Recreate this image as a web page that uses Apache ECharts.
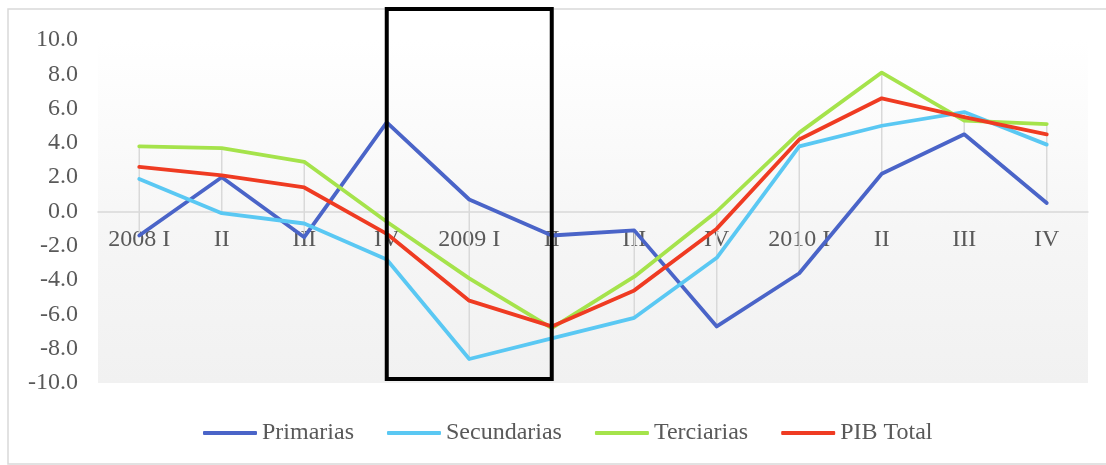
<!DOCTYPE html>
<html>
<head>
<meta charset="utf-8">
<script src="https://cdn.jsdelivr.net/npm/echarts@6/dist/echarts.min.js"></script>
<style>
  html, body { margin: 0; padding: 0; background: #fff; }
  #chart { width: 1106px; height: 465px; }
</style>
</head>
<body>
<div id="chart"></div>
<script>
// Quarterly growth by sector, 2008–2010 (%)
const categories = ['2008 I', 'II', 'III', 'IV', '2009 I', 'II', 'III', 'IV', '2010 I', 'II', 'III', 'IV'];
const primarias   = [-1.4, 2.0, -1.5, 5.2, 0.7, -1.4, -1.1, -6.7, -3.6, 2.2, 4.5, 0.5];
const secundarias = [1.9, -0.1, -0.7, -2.8, -8.6, -7.4, -6.2, -2.7, 3.8, 5.0, 5.8, 3.9];
const terciarias  = [3.8, 3.7, 2.9, -0.6, -3.9, -6.8, -3.8, 0.0, 4.6, 8.1, 5.3, 5.1];
const pibTotal    = [2.6, 2.1, 1.4, -1.3, -5.2, -6.7, -4.6, -1.0, 4.2, 6.6, 5.5, 4.5];
const seriesNames = ['Primarias', 'Secundarias', 'Terciarias', 'PIB Total'];
const seriesColors = ['#4a64c8', '#5ac8f3', '#a5e34b', '#ef3b22'];
const yTicks = { min: -10, max: 10, interval: 2 };
// quarters enclosed by the highlight box
const boxFrom = 3, boxTo = 5;

const font = 'Liberation Serif, Times New Roman, serif';
const fontSize = 24;
const textColor = '#595959';
const allSeries = [primarias, secundarias, terciarias, pibTotal];

// plot box
const gridTop = 40, gridBottom = 82, chartHeight = 465;
const plotHeight = chartHeight - gridTop - gridBottom;
// distance from the bottom of the plot up to the zero line
const zeroLift = plotHeight * (0 - yTicks.min) / (yTicks.max - yTicks.min);

// high-low range per quarter
const hiLow = categories.map((c, i) => {
  const vals = allSeries.map(s => s[i]);
  return [i, Math.max(...vals), Math.min(...vals)];
});

const chart = echarts.init(document.getElementById('chart'), null, { renderer: 'canvas' });

const lineSeries = seriesNames.map((name, k) => ({
  name,
  type: 'line',
  data: allSeries[k],
  showSymbol: false,
  symbol: 'none',
  z: 3,
  lineStyle: { width: 3.8, color: seriesColors[k], join: 'round', cap: 'round' },
  itemStyle: { color: seriesColors[k] }
}));

chart.setOption({
  animation: false,
  textStyle: { fontFamily: font },
  grid: {
    left: 98, right: 18, top: gridTop, bottom: gridBottom,
    show: true,
    borderWidth: 0,
    backgroundColor: new echarts.graphic.LinearGradient(0, 0, 0, 1, [
      { offset: 0, color: '#ffffff' },
      { offset: 0.55, color: '#f6f6f6' },
      { offset: 1, color: '#f1f1f1' }
    ])
  },
  legend: {
    data: seriesNames,
    left: 203,
    top: 421,
    padding: 0,
    icon: 'roundRect',
    itemWidth: 54,
    itemHeight: 4,
    itemGap: 33,
    textStyle: { fontFamily: font, fontSize: fontSize, color: textColor }
  },
  xAxis: {
    type: 'category',
    data: categories,
    boundaryGap: true,
    axisLine: { onZero: true, lineStyle: { color: '#d9d9d9', width: 1.5 } },
    axisTick: { show: false },
    splitLine: { show: false },
    // labels sit just under the zero line
    axisLabel: { fontFamily: font, fontSize: fontSize, color: textColor, margin: 16 - zeroLift, interval: 0 }
  },
  yAxis: {
    type: 'value',
    min: yTicks.min, max: yTicks.max, interval: yTicks.interval,
    axisLine: { show: false },
    axisTick: { show: false },
    splitLine: { show: false },
    axisLabel: {
      fontFamily: font, fontSize: fontSize, color: textColor, margin: 20,
      formatter: v => v.toFixed(1)
    }
  },
  series: [
    {
      name: 'hilow',
      type: 'custom',
      data: hiLow,
      encode: { x: 0, y: [1, 2] },
      z: 1,
      silent: true,
      renderItem: (params, api) => {
        const p1 = api.coord([api.value(0), api.value(1)]);
        const p2 = api.coord([api.value(0), api.value(2)]);
        return {
          type: 'line',
          shape: { x1: p1[0], y1: p1[1], x2: p2[0], y2: p2[1] },
          style: { stroke: '#d9d9d9', lineWidth: 1.5 }
        };
      }
    },
    ...lineSeries
  ]
});

// frame around the chart and highlight box around the selected quarters
const xa = chart.convertToPixel({ xAxisIndex: 0 }, boxFrom);
const xb = chart.convertToPixel({ xAxisIndex: 0 }, boxTo);
chart.setOption({
  graphic: [
    {
      type: 'rect', silent: true, z: 0,
      shape: { x: 8, y: 9, width: 1200, height: 455 },
      style: { fill: 'none', stroke: '#d9d9d9', lineWidth: 1.5 }
    },
    {
      type: 'rect', silent: true, z: 100,
      shape: { x: xa, y: 9, width: xb - xa, height: 370 },
      style: { fill: 'none', stroke: '#000000', lineWidth: 4 }
    }
  ]
});
</script>
</body>
</html>
